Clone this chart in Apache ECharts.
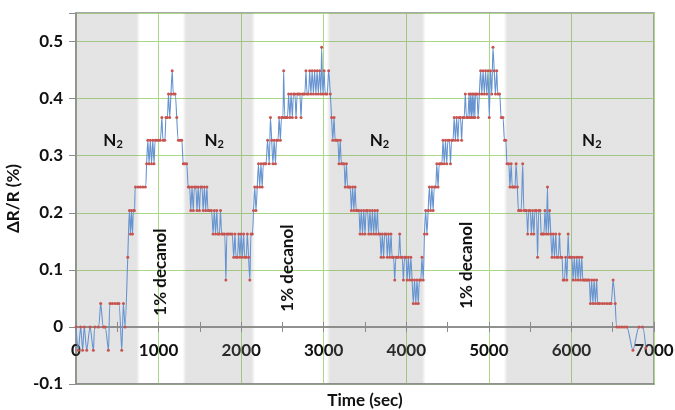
<!DOCTYPE html>
<html>
<head>
<meta charset="utf-8">
<script src="https://cdn.jsdelivr.net/npm/echarts@6/dist/echarts.min.js"></script>
<style>
html,body{margin:0;padding:0;background:#fff;}
#chart{width:675px;height:410px;}
</style>
</head>
<body>
<div id="chart"></div>
<script>
// Time (sec)
const timeSec = [
0,28,57,80,100,130,170,210,230,271,299,332,352,392,412,440,470,500,520,554,574,594,627,647,660,672,684,696,708,
720,750,780,810,840,855,870,885,900,915,930,945,960,980,1000,1020,1040,1055,1075,1090,1105,1120,1135,1150,1165,1180,1200,1220,
1240,1260,1280,1300,1320,1340,1360,1375,1390,1405,1420,1435,1450,1465,1480,1495,1510,1525,1540,1555,1570,1585,1600,1620,1640,
1660,1675,1690,1705,1720,1735,1750,1765,1780,1800,1815,1830,1850,1870,1890,1910,1925,1940,1955,1970,1985,2000,2015,2030,2045,
2060,2075,2090,2105,2120,2135,2150,2165,2180,2195,2210,2225,2240,2255,2270,2285,2300,2320,2340,2355,2370,2385,2400,2415,2430,
2445,2460,2475,2490,2505,2515,2530,2545,2560,2575,2590,2605,2620,2635,2650,2665,2680,2695,2710,2725,2740,2755,2770,2785,2800,
2815,2830,2845,2860,2875,2890,2905,2920,2935,2950,2965,2975,2990,3005,3020,3040,3060,3080,3095,3110,3125,3140,3155,3170,3185,
3200,3215,3230,3245,3260,3275,3290,3305,3320,3335,3350,3365,3380,3395,3410,3425,3440,3455,3470,3485,3500,3515,3530,3545,3560,
3575,3590,3605,3620,3635,3650,3665,3680,3695,3710,3725,3740,3755,3770,3785,3800,3815,3830,3845,3860,3875,3890,3905,3920,3935,
3950,3965,3980,3995,4010,4025,4040,4055,4070,4085,4100,4115,4130,4145,4160,4175,4190,4205,4220,4235,4250,4265,4280,4295,4310,
4325,4340,4355,4370,4385,4400,4415,4430,4445,4460,4475,4490,4505,4520,4535,4550,4565,4580,4595,4610,4625,4640,4655,4670,4685,
4700,4715,4730,4745,4760,4770,4780,4790,4800,4810,4820,4830,4840,4855,4870,4885,4900,4915,4930,4945,4960,4975,4990,5005,5020,
5035,5050,5065,5080,5095,5110,5130,5150,5170,5190,5205,5220,5240,5255,5270,5285,5300,5315,5330,5345,5360,5375,5390,5410,5425,
5440,5455,5470,5485,5500,5515,5530,5545,5560,5575,5590,5605,5620,5635,5650,5665,5680,5695,5710,5720,5735,5750,5765,5780,5795,
5810,5825,5840,5855,5870,5885,5900,5915,5930,5945,5960,5975,5990,6005,6020,6035,6050,6065,6080,6095,6110,6125,6140,6155,6170,
6185,6200,6215,6230,6245,6260,6275,6290,6305,6320,6340,6370,6400,6430,6460,6480,6505,6530,6550,6580,6610,6640,6670,6745,6820,
6860,6900
];
// ΔR/R (%)
const deltaR = [
0,-0.041,0,-0.041,0,-0.041,0,-0.041,0,0,0.041,0,0,-0.041,0.041,0.041,0.041,0.041,0.041,-0.041,0.041,0,0.122,0.204,0.163,0.204,0.163,0.204,0.204,
0.245,0.245,0.245,0.245,0.245,0.286,0.327,0.286,0.327,0.286,0.327,0.286,0.327,0.327,0.327,0.327,0.367,0.327,0.327,0.367,0.367,0.408,0.367,0.408,0.449,0.408,0.408,0.367,
0.327,0.327,0.327,0.286,0.286,0.286,0.245,0.245,0.204,0.245,0.204,0.245,0.245,0.204,0.245,0.204,0.245,0.245,0.204,0.245,0.204,0.245,0.204,0.204,0.204,
0.163,0.204,0.163,0.204,0.163,0.163,0.204,0.163,0.163,0.163,0.082,0.163,0.163,0.163,0.163,0.122,0.163,0.122,0.122,0.163,0.122,0.163,0.122,0.163,0.122,
0.122,0.163,0.122,0.082,0.163,0.163,0.204,0.245,0.204,0.245,0.286,0.245,0.286,0.245,0.286,0.286,0.286,0.327,0.286,0.367,0.327,0.286,0.327,0.286,0.327,
0.327,0.367,0.327,0.367,0.367,0.449,0.367,0.367,0.367,0.408,0.367,0.408,0.367,0.408,0.408,0.367,0.408,0.408,0.408,0.367,0.408,0.408,0.408,0.449,0.408,
0.408,0.449,0.408,0.449,0.408,0.449,0.408,0.449,0.408,0.449,0.408,0.49,0.408,0.449,0.408,0.408,0.449,0.408,0.367,0.327,0.367,0.327,0.327,0.327,0.286,
0.327,0.286,0.286,0.286,0.245,0.286,0.245,0.245,0.245,0.204,0.245,0.204,0.245,0.204,0.204,0.204,0.163,0.204,0.163,0.204,0.163,0.204,0.204,0.163,0.204,
0.163,0.204,0.163,0.204,0.163,0.204,0.163,0.163,0.122,0.163,0.122,0.163,0.163,0.122,0.163,0.122,0.163,0.122,0.122,0.082,0.122,0.122,0.122,0.163,0.122,
0.122,0.082,0.122,0.122,0.082,0.122,0.082,0.122,0.082,0.041,0.082,0.041,0.082,0.041,0.082,0.082,0.122,0.082,0.163,0.204,0.163,0.204,0.245,0.204,0.245,
0.204,0.245,0.245,0.286,0.245,0.286,0.286,0.286,0.327,0.286,0.327,0.286,0.327,0.327,0.286,0.327,0.327,0.367,0.327,0.367,0.327,0.367,0.367,0.327,0.367,
0.367,0.408,0.367,0.367,0.408,0.367,0.408,0.367,0.408,0.367,0.408,0.367,0.408,0.408,0.367,0.408,0.449,0.408,0.449,0.408,0.449,0.408,0.449,0.367,0.449,
0.408,0.49,0.449,0.408,0.449,0.408,0.408,0.367,0.367,0.327,0.327,0.286,0.286,0.245,0.286,0.245,0.245,0.245,0.286,0.245,0.204,0.204,0.204,0.286,0.204,
0.204,0.204,0.163,0.204,0.204,0.163,0.204,0.163,0.204,0.204,0.122,0.204,0.204,0.163,0.163,0.163,0.204,0.163,0.245,0.163,0.204,0.163,0.122,0.163,0.122,
0.163,0.122,0.122,0.163,0.122,0.122,0.082,0.082,0.122,0.082,0.163,0.122,0.122,0.122,0.082,0.122,0.082,0.122,0.082,0.122,0.082,0.122,0.082,0.082,0.082,
0.082,0.082,0.082,0.041,0.082,0.041,0.082,0.041,0.082,0.041,0.041,0.041,0.041,0.041,0.041,0.041,0.082,0.041,0,0,0,0,0,-0.041,0,
0,-0.037
];
// N2 (grey) periods, sec
const n2Start = [0, 1290, 3035, 5180];
const n2End = [775, 2170, 4235, 7000];
// annotation texts
const n2Labels = [[449, 0.327], [1674, 0.327], [3675, 0.327], [6247, 0.327]];
const decanolLabels = [[1019, 0.096], [2559, 0.103], [4731, 0.108]];
const xTicks = [0, 1000, 2000, 3000, 4000, 5000, 6000, 7000];
const yTicks = [-0.1, 0, 0.1, 0.2, 0.3, 0.4, 0.5];

const FONT = 'Lato';
const GRAY = 'rgba(130,130,130,0.22)';
const CLEAR = 'rgba(130,130,130,0)';
const fade = 45;
const X_MIN = xTicks[0], X_MAX = xTicks[xTicks.length - 1];
const Y_MIN = yTicks[0], Y_MAX = 0.55;

const areas = n2Start.map((s, i) => {
  const e = n2End[i];
  const w = e - s;
  const stops = [];
  if (s > X_MIN) { stops.push({offset: 0, color: CLEAR}); stops.push({offset: fade / w, color: GRAY}); }
  else stops.push({offset: 0, color: GRAY});
  if (e < X_MAX) { stops.push({offset: 1 - fade / w, color: GRAY}); stops.push({offset: 1, color: CLEAR}); }
  else stops.push({offset: 1, color: GRAY});
  return [{xAxis: s, yAxis: Y_MIN, itemStyle: {color: {type: 'linear', x: 0, y: 0, x2: 1, y2: 0, colorStops: stops}}}, {xAxis: e, yAxis: Y_MAX}];
});

const marks = [];
n2Labels.forEach(p => marks.push({
  coord: p,
  label: {show: true, position: 'inside', formatter: '{n|N}{s|2}',
    rich: {n: {fontFamily: FONT, fontWeight: 'bold', fontSize: 17, color: '#111'},
           s: {fontFamily: FONT, fontWeight: 'bold', fontSize: 11, color: '#111', padding: [9, 0, 0, 0]}}}
}));
decanolLabels.forEach(p => marks.push({
  coord: p,
  label: {show: true, position: 'inside', rotate: 90, formatter: '1% decanol',
    fontFamily: FONT, fontWeight: 'bold', fontSize: 17, color: '#111'}
}));

const chart = echarts.init(document.getElementById('chart'));
const axisGray = '#8c8c8c';
const green = '#aad884';
const gridBox = {left: 76, right: 21, top: 13, bottom: 26, containLabel: false, outerBoundsMode: 'none'};
const tickAxis = (gi, inside) => ({
  gridIndex: gi, type: 'value', min: X_MIN, max: X_MAX, interval: 1000,
  position: 'bottom',
  axisLine: {onZero: true, lineStyle: {color: axisGray, width: 1.5}},
  axisTick: {show: true, inside: inside, length: 5, lineStyle: {color: axisGray}},
  minorTick: {show: true, splitNumber: 2, length: 5, lineStyle: {color: axisGray}},
  axisLabel: {show: false},
  splitLine: {show: false}
});
const hiddenY = gi => ({
  gridIndex: gi, type: 'value', min: Y_MIN, max: Y_MAX, interval: 0.1,
  axisLine: {show: false, onZero: false}, axisTick: {show: false}, axisLabel: {show: false}, splitLine: {show: false}
});
chart.setOption({
  animation: false,
  grid: [
    Object.assign({show: true, borderColor: axisGray, borderWidth: 1.5, backgroundColor: 'transparent'}, gridBox),
    Object.assign({show: false}, gridBox),
    Object.assign({show: false}, gridBox)
  ],
  xAxis: [{
    gridIndex: 0, type: 'value', min: X_MIN, max: X_MAX, interval: 1000,
    position: 'bottom',
    axisLine: {show: true, onZero: false, lineStyle: {color: axisGray, width: 1.5}},
    axisTick: {show: false},
    axisLabel: {fontFamily: FONT, fontWeight: 'bold', fontSize: 17, color: '#111', margin: -42,
      formatter: v => String(v)},
    splitLine: {show: true, lineStyle: {color: green, width: 1}},
    name: 'Time (sec)', nameLocation: 'middle', nameGap: 8,
    nameTextStyle: {fontFamily: FONT, fontWeight: 'bold', fontSize: 17, color: '#111'}
  }, tickAxis(1, true), tickAxis(2, false)],
  yAxis: [{
    gridIndex: 0, type: 'value', min: Y_MIN, max: Y_MAX, interval: 0.1,
    axisLine: {show: true, onZero: false, lineStyle: {color: axisGray, width: 1.5}},
    axisTick: {show: true, length: 7, lineStyle: {color: axisGray}},
    axisLabel: {fontFamily: FONT, fontWeight: 'bold', fontSize: 17, color: '#111', margin: 13,
      formatter: v => v > 0.51 ? '' : String(Math.round(v * 10) / 10)},
    splitLine: {show: true, lineStyle: {color: green, width: 1}},
    name: 'ΔR/R (%)', nameLocation: 'middle', nameGap: 44,
    nameTextStyle: {fontFamily: FONT, fontWeight: 'bold', fontSize: 17, color: '#111'}
  }, hiddenY(1), hiddenY(2)],
  series: [{
    type: 'line',
    xAxisIndex: 0, yAxisIndex: 0,
    data: timeSec.map((t, i) => [t, deltaR[i]]),
    smooth: 0.25,
    showSymbol: true,
    symbol: 'circle', symbolSize: 3,
    itemStyle: {color: '#c65450'},
    lineStyle: {color: '#6794d0', width: 1.1},
    markArea: {silent: true, data: areas},
    markPoint: {silent: true, symbol: 'circle', symbolSize: 1, itemStyle: {color: 'rgba(0,0,0,0)'}, data: marks}
  },
  {type: 'line', xAxisIndex: 1, yAxisIndex: 1, data: [], silent: true},
  {type: 'line', xAxisIndex: 2, yAxisIndex: 2, data: [], silent: true}]
});
</script>
</body>
</html>
